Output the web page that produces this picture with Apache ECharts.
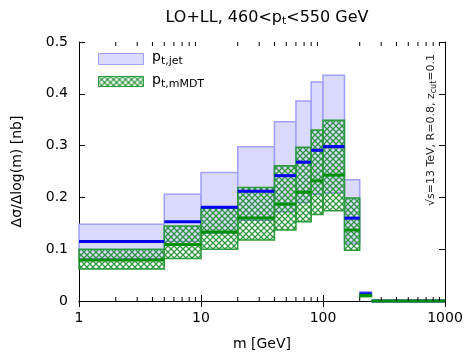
<!DOCTYPE html>
<html><head><meta charset="utf-8">
<script src="https://cdn.jsdelivr.net/npm/echarts@6/dist/echarts.min.js"></script>
<style>html,body{margin:0;padding:0;background:#fff}#c{width:467px;height:352px}</style>
</head><body><div id="c"></div>
<script>
// bin edges in m [GeV]
const binEdges = [1, 5, 10, 20, 40, 60, 80, 100, 150, 200, 250, 1000];
// p_t,jet : central value and band
const jetCentral = [0.115, 0.153, 0.181, 0.212, 0.242, 0.268, 0.291, 0.298, 0.160, 0.014, 0];
const jetLow     = [0.082, 0.115, 0.131, 0.156, 0.172, 0.190, 0.206, 0.209, 0.111, 0.010, 0];
const jetHigh    = [0.148, 0.206, 0.248, 0.298, 0.346, 0.386, 0.423, 0.436, 0.234, 0.018, 0];
// p_t,mMDT : central value and band
const mmdtCentral = [0.079, 0.109, 0.133, 0.160, 0.187, 0.210, 0.232, 0.243, 0.137, 0.011, 0];
const mmdtLow     = [0.062, 0.082, 0.100, 0.118, 0.137, 0.153, 0.167, 0.174, 0.098, 0.008, 0];
const mmdtHigh    = [0.100, 0.145, 0.179, 0.219, 0.261, 0.297, 0.330, 0.349, 0.199, 0.013, 0];
// axis ticks
const xMajorTicks = [1, 10, 100, 1000];
const xMinorTicks = [2,3,4,5,6,7,8,9,20,30,40,50,60,70,80,90,200,300,400,500,600,700,800,900];

const FONT = 'DejaVu Sans';
const JET_FILL = '#dadaff', JET_EDGE = '#a0a0ff', BLUE = '#0000ee';
const GREEN_EDGE = '#2a9a3a', GREEN_LINE = '#009000';

function makeHatch() {
  const s = 6;
  const c = document.createElement('canvas');
  c.width = s; c.height = s;
  const ctx = c.getContext('2d');
  ctx.strokeStyle = 'rgba(25,140,45,0.9)';
  ctx.lineWidth = 1.3;
  ctx.beginPath();
  ctx.moveTo(-1, -1); ctx.lineTo(s + 1, s + 1);
  ctx.moveTo(s + 1, -1); ctx.lineTo(-1, s + 1);
  ctx.stroke();
  return c;
}
const hatch = makeHatch();

function bandData(lo, hi) {
  return lo.map((v, i) => [binEdges[i], binEdges[i + 1], v, hi[i]]);
}
function lineData(c) {
  return c.map((v, i) => [binEdges[i], binEdges[i + 1], v]);
}

function bandRender(fill, stroke, lw) {
  return function (params, api) {
    const p0 = api.coord([api.value(0), api.value(3)]);
    const p1 = api.coord([api.value(1), api.value(2)]);
    return {
      type: 'rect',
      shape: { x: p0[0], y: p0[1], width: p1[0] - p0[0], height: p1[1] - p0[1] },
      style: { fill: fill, stroke: stroke, lineWidth: lw }
    };
  };
}
function lineRender(color) {
  return function (params, api) {
    const p0 = api.coord([api.value(0), api.value(2)]);
    const p1 = api.coord([api.value(1), api.value(2)]);
    return {
      type: 'line',
      shape: { x1: p0[0], y1: p0[1], x2: p1[0], y2: p1[1] },
      style: { stroke: color, lineWidth: 3 }
    };
  };
}
// minor ticks on log axis (bottom and top), positioned through the axis scale
function minorTickRender(params, api) {
  const x = api.value(0);
  const b = api.coord([x, 0]);
  const t = api.coord([x, 0.5]);
  return {
    type: 'group',
    children: [
      { type: 'line', shape: { x1: b[0], y1: b[1], x2: b[0], y2: b[1] - 4 }, style: { stroke: '#000', lineWidth: 1 } },
      { type: 'line', shape: { x1: t[0], y1: t[1], x2: t[0], y2: t[1] + 4 }, style: { stroke: '#000', lineWidth: 1 } }
    ]
  };
}

const chart = echarts.init(document.getElementById('c'), null, { renderer: 'canvas' });
const axisLine = { show: true, lineStyle: { color: '#000', width: 1 } };
chart.setOption({
  animation: false,
  title: {
    text: 'LO+LL, 460<p{s|t}<550 GeV',
    left: 262, top: 3, textAlign: 'center',
    textStyle: { fontFamily: FONT, fontSize: 16, fontWeight: 'normal', color: '#000',
      rich: { s: { fontFamily: FONT, fontSize: 11, verticalAlign: 'bottom', padding: [8, 0, 0, 0], color: '#000' } } }
  },
  grid: { left: 79, right: 22, top: 42, bottom: 51, containLabel: false, outerBoundsMode: 'none' },
  xAxis: [{
    type: 'log', logBase: 10, min: 1, max: 1000, position: 'bottom',
    name: 'm [GeV]', nameLocation: 'middle', nameGap: 36,
    nameTextStyle: { fontFamily: FONT, fontSize: 14, color: '#000' },
    axisLine: axisLine,
    axisTick: { show: true, inside: true, length: 6, lineStyle: { color: '#000' } },
    minorTick: { show: false },
    axisLabel: { fontFamily: FONT, fontSize: 14, color: '#000', margin: 10,
      formatter: v => xMajorTicks.includes(Math.round(v)) ? String(Math.round(v)) : '' },
    splitLine: { show: false }
  }, {
    type: 'log', logBase: 10, min: 1, max: 1000, position: 'top',
    axisLine: axisLine,
    axisTick: { show: true, inside: true, length: 6, lineStyle: { color: '#000' } },
    axisLabel: { show: false }, splitLine: { show: false }
  }],
  yAxis: [{
    type: 'value', min: 0, max: 0.5, interval: 0.1, position: 'left',
    name: 'Δσ/Δlog(m) [nb]', nameLocation: 'middle', nameGap: 55, nameRotate: 90,
    nameTextStyle: { fontFamily: FONT, fontSize: 14, color: '#000' },
    axisLine: axisLine,
    axisTick: { show: true, inside: true, length: 6, lineStyle: { color: '#000' } },
    axisLabel: { fontFamily: FONT, fontSize: 14, color: '#000', margin: 11,
      formatter: v => v === 0 ? '0' : v.toFixed(1) },
    splitLine: { show: false }
  }, {
    type: 'value', min: 0, max: 0.5, interval: 0.1, position: 'right',
    axisLine: axisLine,
    axisTick: { show: true, inside: true, length: 6, lineStyle: { color: '#000' } },
    axisLabel: { show: false }, splitLine: { show: false }
  }],
  series: [
    { type: 'custom', name: 'jetBand', renderItem: bandRender(JET_FILL, JET_EDGE, 1.5), data: bandData(jetLow, jetHigh), z: 2, clip: false },
    { type: 'custom', name: 'mmdtBand', renderItem: bandRender({ image: hatch, repeat: 'repeat' }, GREEN_EDGE, 1.5), data: bandData(mmdtLow, mmdtHigh), z: 3, clip: false },
    { type: 'custom', name: 'jetLine', renderItem: lineRender(BLUE), data: lineData(jetCentral), z: 4, clip: false },
    { type: 'custom', name: 'mmdtLine', renderItem: lineRender(GREEN_LINE), data: lineData(mmdtCentral), z: 5, clip: false },
    { type: 'custom', name: 'minorTicks', renderItem: minorTickRender, data: xMinorTicks.map(v => [v]), z: 6, clip: false, silent: true }
  ],
  graphic: [
    { type: 'rect', left: 98, top: 53, shape: { width: 45, height: 11 }, style: { fill: JET_FILL, stroke: JET_EDGE, lineWidth: 1 }, z: 10 },
    { type: 'text', left: 152, top: 50, style: { text: 'p{s|t,jet}', fill: '#000', font: '14px ' + FONT,
        rich: { s: { fontFamily: FONT, fontSize: 11, verticalAlign: 'bottom', padding: [9, 0, 0, 0], fill: '#000' } } }, z: 10 },
    { type: 'rect', left: 98, top: 76, shape: { width: 45, height: 10 }, style: { fill: { image: hatch, repeat: 'repeat' }, stroke: GREEN_EDGE, lineWidth: 1 }, z: 10 },
    { type: 'text', left: 152, top: 73, style: { text: 'p{s|t,mMDT}', fill: '#000', font: '14px ' + FONT,
        rich: { s: { fontFamily: FONT, fontSize: 11, verticalAlign: 'bottom', padding: [9, 0, 0, 0], fill: '#000' } } }, z: 10 },
    { type: 'text', x: 424, y: 206, rotation: Math.PI / 2,
      style: { text: '√s=13 TeV, R=0.8, z{s|cut}=0.1', fill: '#222', font: '11px ' + FONT,
        rich: { s: { fontFamily: FONT, fontSize: 8, verticalAlign: 'bottom', padding: [6, 0, 0, 0], fill: '#222' } } }, z: 10 }
  ]
});
</script></body></html>
